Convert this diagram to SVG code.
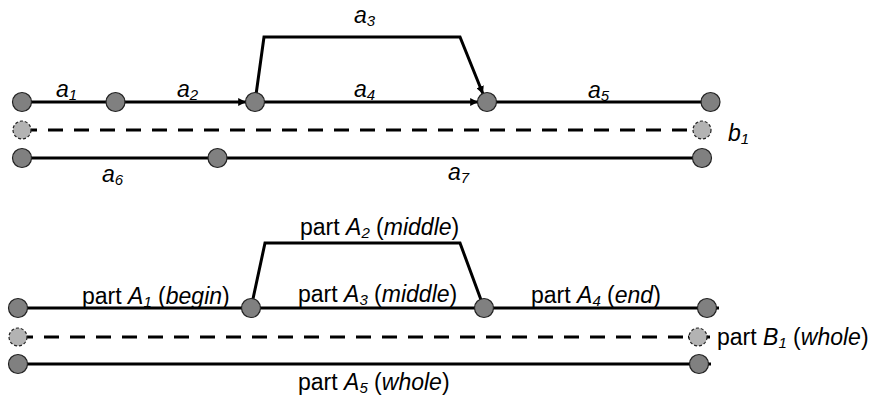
<svg xmlns="http://www.w3.org/2000/svg" width="871" height="399" viewBox="0 0 871 399">
<style>
.ln{stroke:#000;stroke-width:3;fill:none}
.ds{stroke:#000;stroke-width:3;fill:none;stroke-dasharray:15 11}
.nd{fill:#808080;stroke:#222;stroke-width:1.2}
.dn{fill:#b3b3b3;stroke:#222;stroke-width:1.2;stroke-dasharray:3 2}
text{font-family:"Liberation Sans",Arial,sans-serif;font-size:23px;fill:#000}
.it{font-style:italic}
.sb{font-size:15px;font-style:italic}
</style>
<defs>
<marker id="ah" viewBox="0 0 10 10" refX="10" refY="5" markerWidth="2.6" markerHeight="2.6" orient="auto" markerUnits="strokeWidth">
<path d="M0,0 L10,5 L0,10 z" fill="#000"/>
</marker>
</defs>
<rect width="871" height="399" fill="#fff"/>
<g id="connectors">
<line class="ln" x1="22" y1="102" x2="115" y2="102"/>
<line class="ln" x1="115" y1="102" x2="246" y2="102" marker-end="url(#ah)"/>
<line class="ln" x1="255" y1="102" x2="478" y2="102" marker-end="url(#ah)"/>
<line class="ln" x1="487" y1="102" x2="710" y2="102"/>
<path class="ln" d="M255,102 L264,37 L460,37 L483,94" marker-end="url(#ah)"/>
<line class="ds" x1="22" y1="130" x2="702" y2="130"/>
<line class="ln" x1="22" y1="158" x2="702" y2="158"/>
<line class="ln" x1="18" y1="308" x2="719" y2="308" marker-end="url(#ah)"/>
<path class="ln" d="M251,308 L265,243 L460,243 L484,308"/>
<line class="ds" x1="18" y1="337" x2="688" y2="337"/>
<line class="ln" x1="688" y1="337" x2="710" y2="337" marker-end="url(#ah)" stroke-width="1.5"/>
<line class="ln" x1="18" y1="364" x2="711" y2="364" marker-end="url(#ah)"/>
</g>
<g id="n1"><circle class="nd" cx="22" cy="102" r="9.5"/></g>
<g id="n2"><circle class="nd" cx="115.5" cy="102" r="9.5"/></g>
<g id="n3"><circle class="nd" cx="255" cy="102" r="9.5"/></g>
<g id="n4"><circle class="nd" cx="487" cy="102" r="9.5"/></g>
<g id="n5"><circle class="nd" cx="710.5" cy="102" r="9.5"/></g>
<g id="n6"><circle class="dn" cx="22" cy="130" r="9"/></g>
<g id="n7"><circle class="dn" cx="702" cy="130" r="9"/></g>
<g id="n8"><circle class="nd" cx="22" cy="158" r="9.5"/></g>
<g id="n9"><circle class="nd" cx="217.5" cy="158" r="9.5"/></g>
<g id="n10"><circle class="nd" cx="702" cy="158" r="9.5"/></g>
<g id="n11"><circle class="nd" cx="18" cy="308" r="9.5"/></g>
<g id="n12"><circle class="nd" cx="251" cy="308" r="9.5"/></g>
<g id="n13"><circle class="nd" cx="484" cy="308" r="9.5"/></g>
<g id="n14"><circle class="nd" cx="707" cy="308" r="9.5"/></g>
<g id="n15"><circle class="dn" cx="18" cy="337" r="9"/></g>
<g id="n16"><circle class="dn" cx="698" cy="337" r="9"/></g>
<g id="n17"><circle class="nd" cx="18" cy="364" r="9.5"/></g>
<g id="n18"><circle class="nd" cx="699" cy="364" r="9.5"/></g>
<g id="labels">
<text x="56" y="97" class="it">a<tspan class="sb" dy="3">1</tspan></text>
<text x="177" y="97" class="it">a<tspan class="sb" dy="3">2</tspan></text>
<text x="354" y="23" class="it">a<tspan class="sb" dy="3">3</tspan></text>
<text x="354" y="97" class="it">a<tspan class="sb" dy="3">4</tspan></text>
<text x="588" y="98" class="it">a<tspan class="sb" dy="3">5</tspan></text>
<text x="102" y="182" class="it">a<tspan class="sb" dy="3">6</tspan></text>
<text x="448" y="180" class="it">a<tspan class="sb" dy="3">7</tspan></text>
<text x="728" y="141" class="it">b<tspan class="sb" dy="3">1</tspan></text>
<text x="82" y="304">part <tspan class="it">A</tspan><tspan class="sb" dy="3">1</tspan><tspan dy="-3"> (</tspan><tspan class="it">begin</tspan>)</text>
<text x="300" y="235">part <tspan class="it">A</tspan><tspan class="sb" dy="3">2</tspan><tspan dy="-3"> (</tspan><tspan class="it">middle</tspan>)</text>
<text x="298" y="302">part <tspan class="it">A</tspan><tspan class="sb" dy="3">3</tspan><tspan dy="-3"> (</tspan><tspan class="it">middle</tspan>)</text>
<text x="531" y="303">part <tspan class="it">A</tspan><tspan class="sb" dy="3">4</tspan><tspan dy="-3"> (</tspan><tspan class="it">end</tspan>)</text>
<text x="717" y="345">part <tspan class="it">B</tspan><tspan class="sb" dy="3">1</tspan><tspan dy="-3"> (</tspan><tspan class="it">whole</tspan>)</text>
<text x="298" y="390">part <tspan class="it">A</tspan><tspan class="sb" dy="3">5</tspan><tspan dy="-3"> (</tspan><tspan class="it">whole</tspan>)</text>
</g>
</svg>
